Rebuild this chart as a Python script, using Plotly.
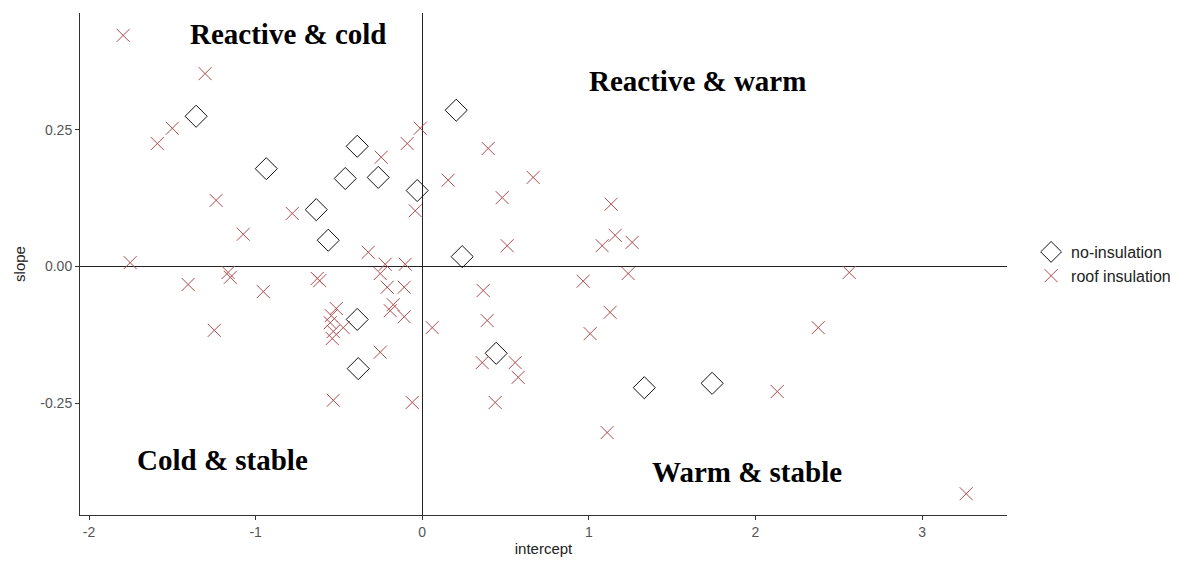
import plotly.graph_objects as go

# no-insulation (diamonds)
no_ins_x = [-1.357, -0.936, -0.636, -0.564, -0.462, -0.39, -0.264, -0.03,
            0.204, 0.24, -0.39, -0.384, 0.444, 1.333, 1.74]
no_ins_y = [0.275, 0.179, 0.104, 0.048, 0.161, 0.220, 0.163, 0.139,
            0.286, 0.018, -0.097, -0.187, -0.159, -0.222, -0.214]

# roof insulation (crosses)
roof_x = [-1.795, -1.303, -1.50, -1.59, -1.237, -1.074, -0.78, -1.753,
          -0.246, -0.09, -0.012, -0.042, -0.324, -0.222, -0.102,
          -1.405, -1.165, -1.152, -0.954, -1.248, -0.63, -0.615,
          -0.516, -0.546, -0.552, -0.474, -0.534, -0.54, -0.252, -0.534,
          -0.06, -0.252, -0.21, -0.108, -0.174, -0.192, -0.108,
          0.156, 0.396, 0.666, 0.48, 0.51, 1.134, 1.158, 1.08, 1.26,
          1.236, 0.966, 2.563,
          0.366, 0.06, 0.39, 1.128, 1.008, 0.36, 0.558, 0.576, 0.438,
          1.11, 2.377, 2.131, 3.265]
roof_y = [0.423, 0.353, 0.253, 0.225, 0.121, 0.059, 0.097, 0.007,
          0.200, 0.225, 0.253, 0.102, 0.026, 0.004, 0.004,
          -0.033, -0.011, -0.020, -0.046, -0.117, -0.022, -0.026,
          -0.077, -0.090, -0.103, -0.112, -0.119, -0.132, -0.157, -0.245,
          -0.249, -0.013, -0.038, -0.038, -0.070, -0.081, -0.092,
          0.158, 0.216, 0.163, 0.126, 0.038, 0.114, 0.057, 0.038, 0.044,
          -0.013, -0.027, -0.011,
          -0.044, -0.112, -0.099, -0.084, -0.123, -0.176, -0.176, -0.203, -0.249,
          -0.304, -0.112, -0.229, -0.416]

x_ticks = [-2, -1, 0, 1, 2, 3]
x_tick_labels = ["-2", "-1", "0", "1", "2", "3"]
y_ticks = [-0.25, 0.0, 0.25]
y_tick_labels = ["-0.25", "0.00", "0.25"]

quadrant_labels = ["Reactive & cold", "Reactive & warm", "Cold & stable", "Warm & stable"]
quadrant_x = [-0.8, 1.65, -1.2, 1.95]
quadrant_y = [0.425, 0.34, -0.354, -0.377]

fig = go.Figure()
fig.add_trace(go.Scatter(
    x=no_ins_x, y=no_ins_y, mode="markers", name="no-insulation",
    marker=dict(symbol="diamond-open", size=17, color="#111111",
                line=dict(width=1, color="#111111"))))
fig.add_trace(go.Scatter(
    x=roof_x, y=roof_y, mode="markers", name="roof insulation",
    marker=dict(symbol="x-thin-open", size=13, color="#b04a4c",
                line=dict(width=1, color="#b04a4c"))))

for t, xx, yy in zip(quadrant_labels, quadrant_x, quadrant_y):
    fig.add_annotation(x=xx, y=yy, text="<b>" + t + "</b>", showarrow=False,
                       font=dict(family="Liberation Serif", size=29, color="black"))

axis_common = dict(showgrid=False, showline=True, linecolor="#333333", linewidth=1,
                   ticks="outside", ticklen=4, tickcolor="#333333",
                   tickfont=dict(family="Liberation Sans", size=14, color="#555555"),
                   zeroline=True, zerolinecolor="#222222", zerolinewidth=1,
                   automargin=False)

fig.update_layout(
    width=1176, height=549,
    margin=dict(l=72, r=177, t=5, b=42),
    plot_bgcolor="white", paper_bgcolor="white",
    xaxis=dict(range=[-2.054, 3.51], tickvals=x_ticks, ticktext=x_tick_labels,
               title=dict(text="intercept", standoff=4,
                          font=dict(family="Liberation Sans", size=15, color="#222222")),
               **axis_common),
    yaxis=dict(range=[-0.455, 0.464], tickvals=y_ticks, ticktext=y_tick_labels,
               title=dict(text="slope", standoff=11,
                          font=dict(family="Liberation Sans", size=15, color="#222222")),
               **axis_common),
    legend=dict(x=1.026, y=0.50, yanchor="middle", xanchor="left",
                font=dict(family="Liberation Sans", size=16, color="#222222"),
                itemwidth=30, tracegroupgap=2),
    showlegend=True,
)

fig.write_html("out.html")
